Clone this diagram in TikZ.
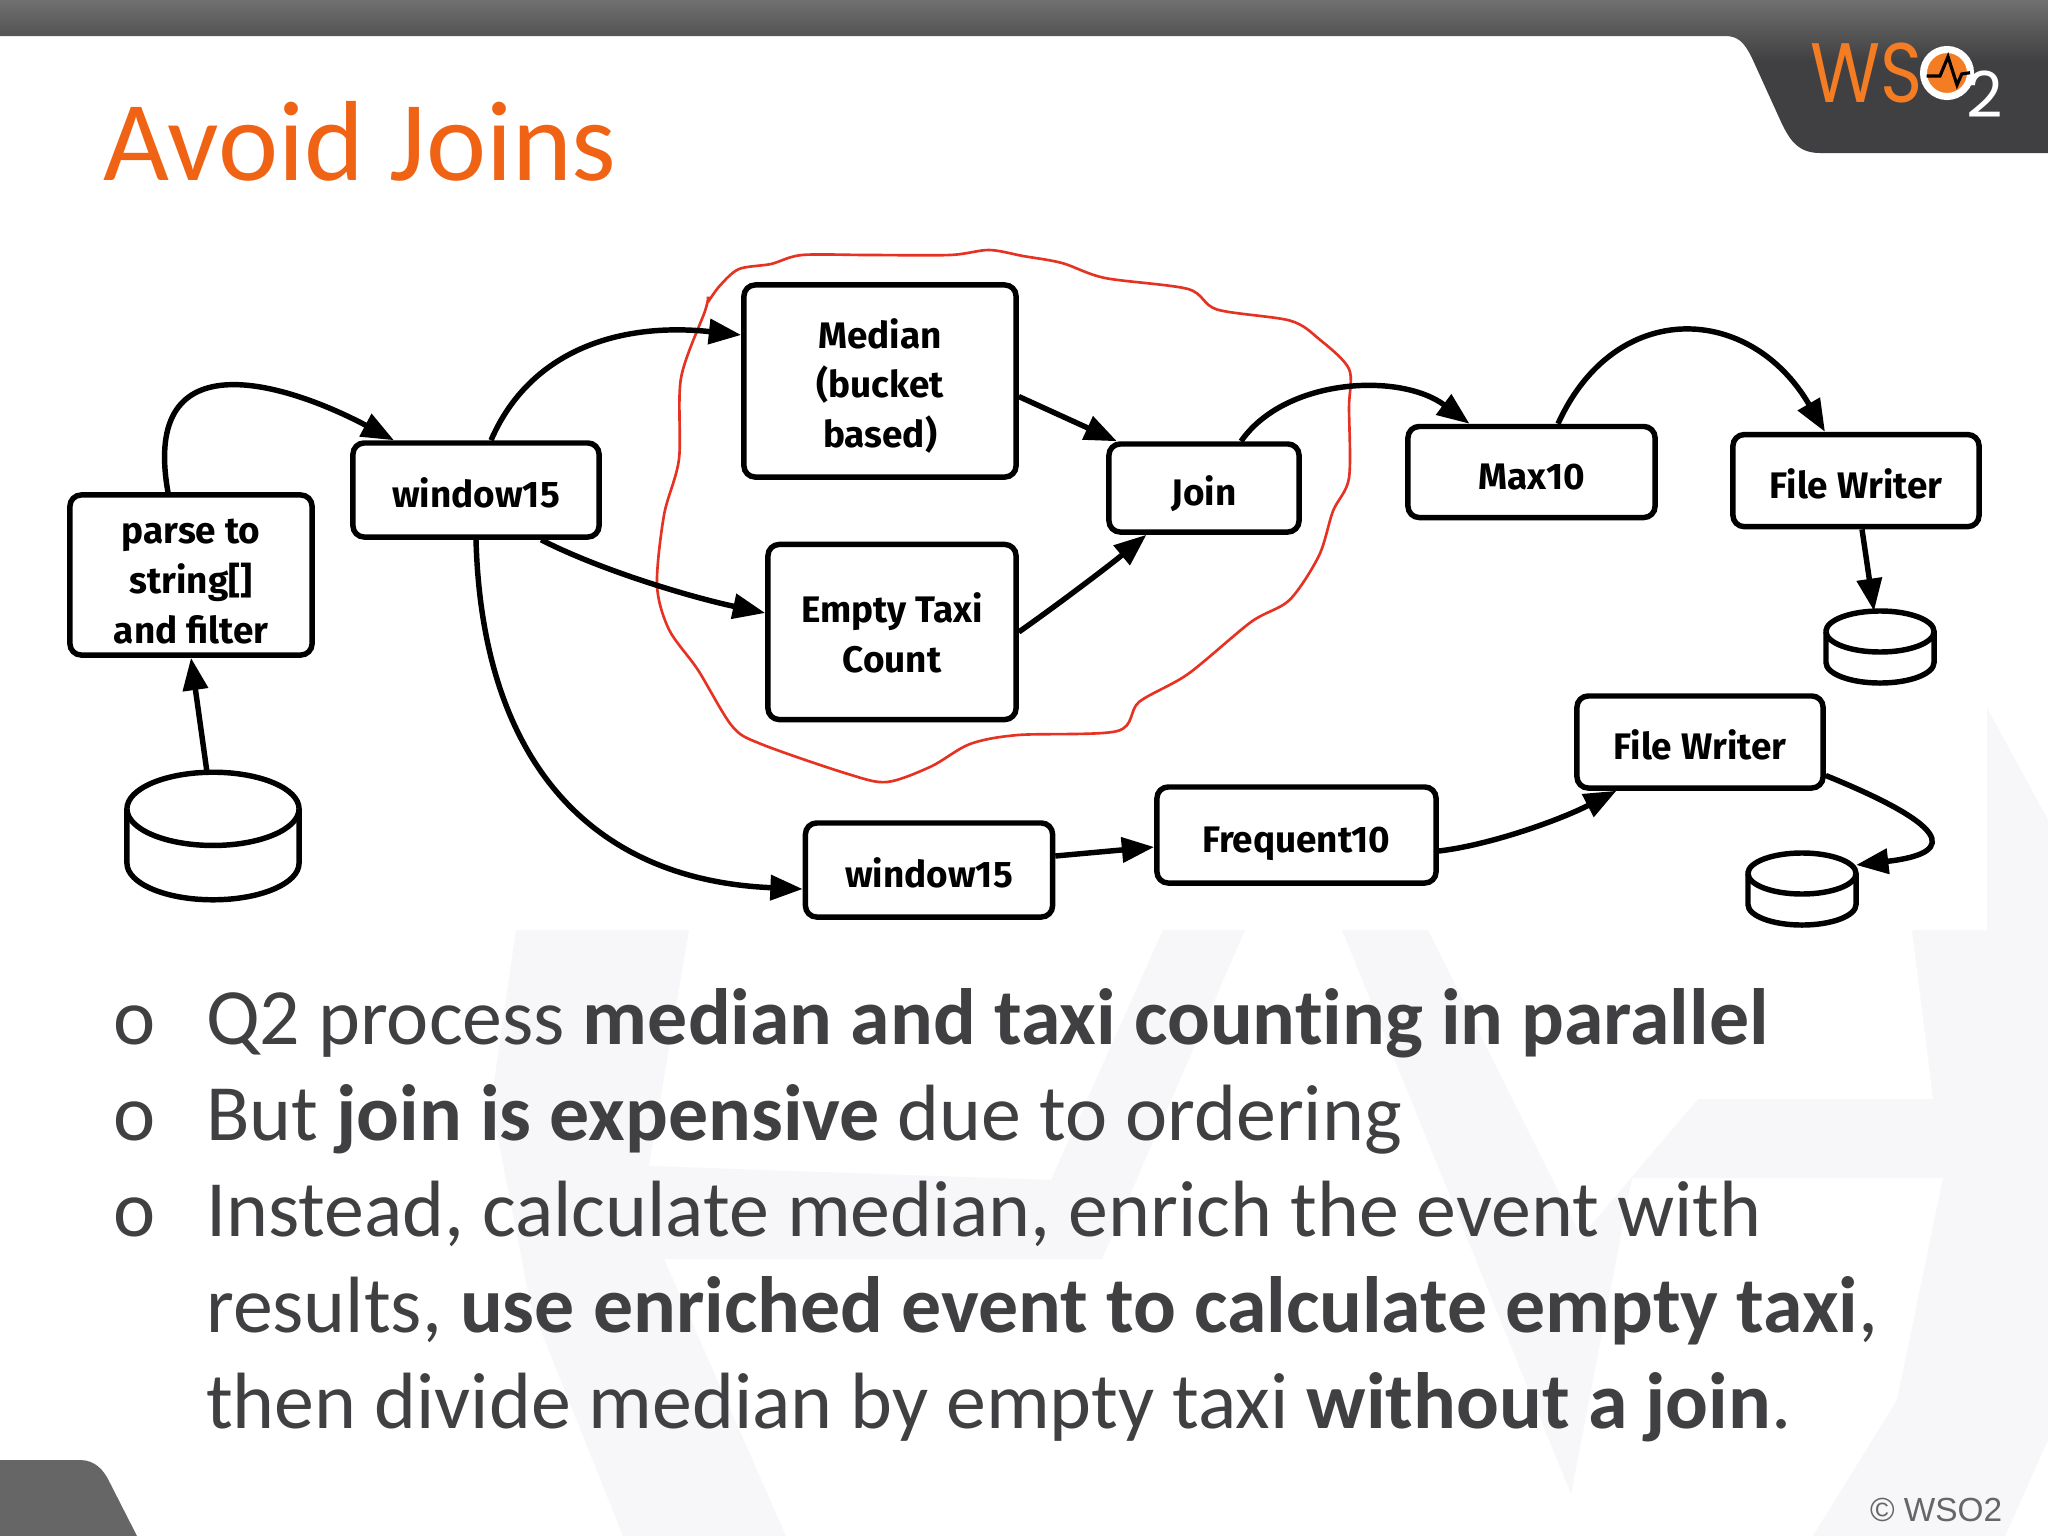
\documentclass[tikz,border=0pt]{standalone}
\usepackage{fontspec}
\usepackage{xcolor}
\usetikzlibrary{arrows.meta}
\setmainfont{Carlito}[Ligatures=NoCommon]
\newfontfamily\boxfont{Fira Sans}
\newfontfamily\logofont{Poppins}
\newfontfamily\footfont{Liberation Sans}
\definecolor{wsoorange}{RGB}{240,98,20}
\definecolor{logoorange}{RGB}{244,125,36}
\definecolor{wsodark}{RGB}{64,63,65}
\definecolor{wsotop}{RGB}{112,112,112}
\definecolor{wsotab}{RGB}{102,102,102}
\definecolor{wsotext}{RGB}{64,63,66}
\definecolor{wsomark}{RGB}{247,246,249}
\definecolor{loopred}{RGB}{230,50,35}
\pgfdeclareverticalshading{hdrshade}{100bp}{color(0bp)=(wsodark); color(55bp)=(wsodark); color(75bp)=(wsotop); color(100bp)=(wsotop)}
% node name, x radius, y radius
\newcommand{\drumshape}[3]{
    \draw[drum] ([yshift=-#3]#1.north west) -- ([yshift=#3]#1.south west) arc[start angle=180, end angle=360, x radius=#2, y radius=#3] -- ([yshift=-#3]#1.north east) arc[start angle=0, end angle=180, x radius=#2, y radius=#3] -- cycle;
    \draw[drum] ([yshift=-#3]#1.north west) arc[start angle=180, end angle=360, x radius=#2, y radius=#3];
}
\newcommand{\tallrow}[1]{\rule{0pt}{#1}}

\begin{document}
\begin{tikzpicture}[
    x=0.01cm, y=-0.01cm,
    box/.style={rectangle, draw, fill=white, line width=1.55pt, rounded corners=3.2pt, inner sep=0pt, align=center, font=\boxfont\bfseries\fontsize{10.5}{14.1}\selectfont, execute at begin node={\rule[-2pt]{0pt}{14pt}}},
    store/.style={rectangle, inner sep=0pt, outer sep=0pt},
    drum/.style={fill=white, line width=1.55pt},
    arrow/.style={-{Triangle[length=9.2pt,width=7pt]}, line width=1.55pt},
    bodyline/.style={anchor=base west, inner sep=0pt, text=wsotext, font=\fontsize{22.7}{26}\selectfont}
]
    \useasboundingbox (0, 0) rectangle (2048, 1536);
    \fill[white] (0, 0) rectangle (2048, 1536);

    % Watermark
    \fill[wsomark] (516, 930) -- (491, 1103) -- (531, 1306) -- (623, 1536) -- (786, 1536) -- (664, 1259) -- (1102, 1259) -- (1245, 930) -- (1163, 930) -- (1051, 1180) -- (649, 1166) -- (689, 930) -- cycle;
    \fill[wsomark] (1342, 930) -- (1428, 930) -- (1581, 1237) -- (1698, 1099) -- (1943, 1099) -- (1943, 1178) -- (1632, 1178) -- (1571, 1494) -- cycle;
    \fill[wsomark] (1912, 930) -- (1987, 930) -- (1987, 708) -- (2048, 820) -- (2048, 1440) -- (2005, 1536) -- (1813, 1536) -- (1897, 1400) -- (1943, 1178) -- cycle;

    % Header and footer tabs
    \path[shading=hdrshade] (0, 0) -- (2048, 0) -- (2048, 153) -- (1820, 153) .. controls (1798, 153) and (1790, 140) .. (1782, 124) -- (1752, 58) .. controls (1744, 42) and (1738, 36) .. (1725, 36) -- (0, 36) -- cycle;
    \fill[wsotab] (0, 1460) -- (80, 1460) .. controls (95, 1460) and (104, 1470) .. (110, 1483) -- (137, 1536) -- (0, 1536) -- cycle;

    % Logo
    \node[anchor=base west, inner sep=0pt, text=logoorange, xscale=0.85, transform shape, font=\logofont\fontsize{24}{24}\selectfont] (logows) at (1810, 102) {WS};
    \node[circle, fill=logoorange, draw=white, line width=2pt, minimum size=0.47cm, inner sep=0pt] (logocircle) at (1947, 73) {};
    \draw[black, line width=0.9pt] (1926.7, 76) -- (1940, 76) -- (1948, 56.7) -- (1957, 85) -- (1961.7, 74) -- (1970, 72.7);
    \node[anchor=base west, inner sep=0pt, text=white, font=\logofont\fontsize{18}{18}\selectfont] (logotwo) at (1966, 117) {2};

    % Title
    \node[anchor=base west, inner sep=0pt, text=wsoorange, font=\fontsize{32.4}{36}\selectfont] (title) at (103, 180) {Avoid Joins};

    % Red loop
    \draw[loopred, line width=0.75pt, smooth] plot coordinates {(708, 302) (720, 285.5) (739, 269) (771, 264) (802, 255) (868, 255) (950, 255) (989, 250) (1023, 256) (1062, 263) (1105, 278) (1188, 289) (1217, 309.5) (1290, 320.6) (1319, 339) (1349, 369) (1349, 407.6) (1349, 478) (1333, 511) (1319, 555.6) (1289.5, 600) (1251, 622) (1188, 674) (1139, 702) (1117.5, 731) (1018, 735) (970, 744) (931, 766.5) (887, 782) (848, 774) (761, 744) (732, 726) (698, 670) (669, 629.6) (657, 585) (664, 515) (679, 459) (681, 378) (705, 311) (708, 296.6)};

    % Boxes
    \node[box, minimum width=2.42cm, minimum height=1.60cm] (parse) at (191, 575) {\tallrow{12.5pt}parse to\\string[]\\and filter};
    \node[box, minimum width=2.46cm, minimum height=0.94cm] (windowa) at (476, 490) {window15};
    \node[box, minimum width=2.72cm, minimum height=1.92cm] (median) at (880, 381) {\tallrow{11.6pt}Median\\(bucket\\based)};
    \node[box, minimum width=2.48cm, minimum height=1.75cm] (empty) at (892, 632) {\tallrow{10.8pt}Empty Taxi\\Count};
    \node[box, minimum width=1.90cm, minimum height=0.88cm] (join) at (1204, 488) {Join};
    \node[box, minimum width=2.47cm, minimum height=0.91cm] (maxten) at (1531.5, 472) {Max10};
    \node[box, minimum width=2.46cm, minimum height=0.92cm] (writera) at (1856, 480.6) {File Writer};
    \node[box, minimum width=2.46cm, minimum height=0.92cm] (writerb) at (1700, 742) {File Writer};
    \node[box, minimum width=2.47cm, minimum height=0.94cm] (windowb) at (929, 870) {window15};
    \node[box, minimum width=2.79cm, minimum height=0.96cm] (frequent) at (1296.5, 835) {Frequent10};

    % Stores
    \node[store, minimum width=1.72cm, minimum height=1.275cm] (storea) at (213, 836) {};
    \node[store, minimum width=1.08cm, minimum height=0.72cm] (storeb) at (1880, 647) {};
    \node[store, minimum width=1.08cm, minimum height=0.72cm] (storec) at (1802, 889) {};
    \drumshape{storea}{0.86cm}{0.366cm}
    \drumshape{storeb}{0.54cm}{0.205cm}
    \drumshape{storec}{0.54cm}{0.205cm}

    % Arrows
    \draw[arrow] ([xshift=-0.06cm]storea.north) -- (parse.south);
    \draw[arrow] ([xshift=-0.23cm]parse.north) .. controls (140, 335) and (290, 385) .. ([xshift=-0.82cm]windowa.north);
    \draw[arrow] ([xshift=0.15cm]windowa.north) .. controls (530, 350) and (620, 322) .. ([yshift=0.46cm]median.west);
    \draw[arrow] ([xshift=0.65cm]windowa.south) .. controls (600, 570) and (690, 597) .. ([yshift=0.19cm]empty.west);
    \draw[arrow] (windowa.south) .. controls (482, 760) and (590, 880) .. ([yshift=-0.19cm]windowb.west);
    \draw[arrow] ([yshift=-0.155cm]median.east) -- ([xshift=-0.87cm]join.north);
    \draw[arrow] (empty.east) .. controls (1060, 603) and (1110, 565) .. ([xshift=-0.575cm]join.south);
    \draw[arrow] ([xshift=0.37cm]join.north) .. controls (1285, 378) and (1400, 372) .. ([xshift=-0.62cm]maxten.north);
    \draw[arrow] ([xshift=0.265cm]maxten.north) .. controls (1615, 298) and (1750, 303) .. ([xshift=-0.31cm]writera.north);
    \draw[arrow] ([xshift=0.06cm]writera.south) -- ([xshift=-0.06cm]storeb.north);
    \draw[arrow] ([yshift=0.14cm]windowb.east) -- ([yshift=-0.12cm]frequent.west);
    \draw[arrow] ([yshift=-0.16cm]frequent.east) .. controls (1490, 845) and (1560, 820) .. ([xshift=-0.835cm]writerb.south);
    \draw[arrow] ([yshift=-0.335cm]writerb.east) .. controls (1972, 835) and (1942, 855) .. ([yshift=-0.12cm]storec.north east);

    % Bullets
    \node[bodyline] (bulleta) at (113, 1044) {o};
    \node[bodyline] (bulletb) at (113, 1140.5) {o};
    \node[bodyline] (bulletc) at (113, 1236.5) {o};
    \node[bodyline] (linea) at (205.5, 1044) {Q2 process \textbf{median and taxi counting in parallel}};
    \node[bodyline] (lineb) at (205.5, 1140.5) {But \textbf{join is expensive} due to ordering};
    \node[bodyline] (linec) at (205.5, 1236.5) {Instead, calculate median, enrich the event with};
    \node[bodyline] (lined) at (205.5, 1332.5) {results, \textbf{use enriched event to calculate empty taxi},};
    \node[bodyline] (linee) at (205.5, 1428) {then divide median by empty taxi \textbf{without a join}.};

    % Footer
    \node[anchor=base east, inner sep=0pt, text=wsotab, font=\footfont\fontsize{9.5}{12}\selectfont] (copyright) at (2003, 1521) {© WSO2};
\end{tikzpicture}
\end{document}
